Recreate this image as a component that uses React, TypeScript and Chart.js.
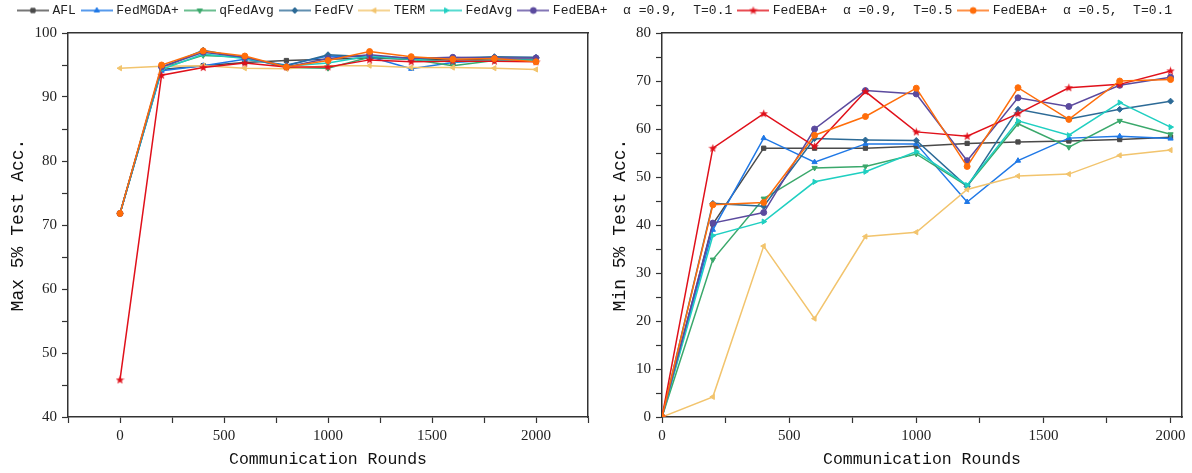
import React, { useEffect, useRef } from 'react';
import { Chart, registerables } from 'chart.js';
import { drawPoint } from 'chart.js/helpers';

Chart.register(...registerables);

// ---------------- data ----------------
const rounds = [0, 200, 400, 600, 800, 1000, 1200, 1400, 1600, 1800, 2000];

const seriesNames = [
  'AFL',
  'FedMGDA+',
  'qFedAvg',
  'FedFV',
  'TERM',
  'FedAvg',
  'FedEBA+  α =0.9,  T=0.1',
  'FedEBA+  α =0.9,  T=0.5',
  'FedEBA+  α =0.5,  T=0.1',
];

// tick positions (labels shown on multiples of 500 / 10)
const leftXTicks = [-250, 0, 250, 500, 750, 1000, 1250, 1500, 1750, 2000, 2250];
const rightXTicks = [0, 250, 500, 750, 1000, 1250, 1500, 1750, 2000];

// Max 5% Test Acc. (left panel)
const maxAFL = [71.8, 94.3, 94.9, 95.4, 95.7, 95.9, 96.1, 95.9, 95.8, 95.9, 95.9];
const maxFedMGDA = [71.8, 94.1, 94.9, 95.9, 95.0, 96.4, 96.3, 94.4, 95.4, 95.8, 95.8];
const maxQFedAvg = [71.8, 94.5, 96.5, 96.2, 94.6, 94.5, 96.2, 95.9, 94.9, 95.7, 95.8];
const maxFedFV = [71.8, 94.6, 97.3, 96.1, 94.9, 96.6, 96.3, 96.1, 96.1, 96.3, 96.2];
const maxTERM = [94.5, 94.8, 94.9, 94.5, 94.4, 94.9, 94.9, 94.6, 94.6, 94.5, 94.3];
const maxFedAvg = [71.8, 94.3, 96.7, 96.0, 94.8, 95.3, 96.4, 95.9, 95.5, 95.8, 95.7];
const maxEBA_09_01 = [71.8, 94.7, 97.0, 96.2, 94.7, 96.0, 96.6, 96.0, 96.2, 96.1, 96.1];
const maxEBA_09_05 = [45.8, 93.4, 94.6, 95.3, 94.7, 94.7, 95.8, 95.5, 95.6, 95.6, 95.5];
const maxEBA_05_01 = [71.8, 95.0, 97.2, 96.4, 94.7, 95.7, 97.1, 96.3, 95.9, 96.0, 95.5];

// Min 5% Test Acc. (right panel)
const minAFL = [0, 40.2, 56.0, 56.0, 56.0, 56.4, 57.0, 57.3, 57.5, 57.8, 58.3];
const minFedMGDA = [0, 39.0, 58.1, 53.1, 56.9, 56.9, 44.8, 53.4, 58.1, 58.5, 58.0];
const minQFedAvg = [0, 32.8, 45.5, 51.9, 52.2, 54.8, 48.1, 61.1, 56.2, 61.7, 58.9];
const minFedFV = [0, 44.5, 43.9, 58.0, 57.7, 57.6, 48.0, 64.1, 62.1, 64.1, 65.8];
const minTERM = [0, 4.2, 35.6, 20.5, 37.6, 38.5, 47.4, 50.2, 50.6, 54.5, 55.6];
const minFedAvg = [0, 37.8, 40.7, 49.0, 51.1, 55.3, 48.3, 61.7, 58.7, 65.5, 60.4];
const minEBA_09_01 = [0, 40.4, 42.6, 60.0, 68.0, 67.3, 53.4, 66.5, 64.7, 69.1, 70.8];
const minEBA_09_05 = [0, 56.0, 63.2, 56.4, 67.8, 59.4, 58.5, 63.2, 68.6, 69.3, 72.1];
const minEBA_05_01 = [0, 44.2, 44.7, 58.7, 62.6, 68.5, 52.2, 68.6, 62.0, 70.0, 70.3];

const maxSeries = [maxAFL, maxFedMGDA, maxQFedAvg, maxFedFV, maxTERM, maxFedAvg, maxEBA_09_01, maxEBA_09_05, maxEBA_05_01];
const minSeries = [minAFL, minFedMGDA, minQFedAvg, minFedFV, minTERM, minFedAvg, minEBA_09_01, minEBA_09_05, minEBA_05_01];

// ---------------- styles ----------------
const colors = ['#4a4a4a', '#1f78e6', '#3aa86b', '#2c6a96', '#f2c46d', '#1fcfc1', '#5b4a9e', '#e0101a', '#ff6d0a'];
const markers = ['rect', 'triangle', 'triangle', 'rectRot', 'triangle', 'triangle', 'circle', 'star', 'circle'];
const rotations = [0, 0, 180, 0, 270, 90, 0, 0, 0];

const TICK_FONT = { family: 'Liberation Serif', size: 15 };
const X_TITLE_FONT = { family: 'Liberation Mono', size: 16.5 };
const Y_TITLE_FONT = { family: 'Liberation Mono', size: 18 };
const AXIS_COLOR = '#333';

function makeStar(color: string): HTMLCanvasElement {
  const c = document.createElement('canvas');
  c.width = 9;
  c.height = 9;
  const ctx = c.getContext('2d')!;
  ctx.fillStyle = color;
  ctx.beginPath();
  for (let i = 0; i < 10; i++) {
    const r = i % 2 === 0 ? 4.5 : 1.9;
    const a = -Math.PI / 2 + (i * Math.PI) / 5;
    const px = 4.5 + r * Math.cos(a);
    const py = 4.7 + r * Math.sin(a);
    if (i === 0) ctx.moveTo(px, py);
    else ctx.lineTo(px, py);
  }
  ctx.closePath();
  ctx.fill();
  return c;
}

function makeLegendIcon(i: number, star: HTMLCanvasElement): HTMLCanvasElement {
  const c = document.createElement('canvas');
  c.width = 32;
  c.height = 12;
  const ctx = c.getContext('2d')!;
  ctx.strokeStyle = colors[i];
  ctx.fillStyle = colors[i];
  ctx.lineWidth = 1.5;
  ctx.beginPath();
  ctx.moveTo(0, 6);
  ctx.lineTo(32, 6);
  ctx.stroke();
  if (markers[i] === 'star') {
    ctx.drawImage(star, 16 - star.width / 2, 6 - star.height / 2);
  } else {
    ctx.lineWidth = 1;
    drawPoint(ctx, { pointStyle: markers[i] as any, rotation: rotations[i], radius: 3, borderWidth: 1 }, 16, 6);
  }
  return c;
}

function makeDatasets(values: number[][], star: HTMLCanvasElement) {
  return values.map((vals, i) => ({
    label: seriesNames[i],
    data: rounds.map((r, j) => ({ x: r, y: vals[j] })),
    borderColor: colors[i],
    backgroundColor: colors[i],
    pointBackgroundColor: colors[i],
    pointBorderColor: colors[i],
    pointStyle: markers[i] === 'star' ? star : markers[i],
    pointRotation: rotations[i],
    pointRadius: 3,
    pointBorderWidth: 1,
    borderWidth: 1.5,
    tension: 0,
    order: values.length - i,
  }));
}

function makeScales(
  xMin: number, xMax: number, xTicks: number[], yMin: number, yMax: number,
  yTitle: string, yWidth: number, yTitlePad: number
) {
  const grid = { display: true, drawOnChartArea: false, drawTicks: true, tickLength: 6, tickColor: AXIS_COLOR, tickWidth: 1.2 };
  const border = { display: true, color: AXIS_COLOR, width: 1.5 };
  return {
    x: {
      type: 'linear', position: 'bottom', min: xMin, max: xMax,
      afterBuildTicks: (s: any) => { s.ticks = xTicks.map((v) => ({ value: v })); },
      ticks: {
        autoSkip: false, maxRotation: 0,
        font: TICK_FONT, color: '#222', padding: 4,
        callback: (v: number) => (v % 500 === 0 ? String(v) : ''),
      },
      grid, border,
      title: { display: true, text: 'Communication Rounds', font: X_TITLE_FONT, color: '#111', padding: { top: 0, bottom: 3 } },
      afterFit: (s: any) => { s.height = 56; },
    },
    y: {
      type: 'linear', position: 'left', min: yMin, max: yMax,
      ticks: {
        stepSize: 5, autoSkip: false, font: TICK_FONT, color: '#222', padding: 5,
        callback: (v: number) => (v % 10 === 0 ? String(v) : ''),
      },
      grid, border,
      title: { display: true, text: yTitle, font: Y_TITLE_FONT, color: '#111', padding: { top: yTitlePad, bottom: 0 } },
      afterFit: (s: any) => { s.width = yWidth; },
    },
    x2: {
      type: 'linear', position: 'top', display: true,
      ticks: { display: false }, grid: { display: false, drawTicks: false }, border,
      afterFit: (s: any) => { s.height = 0; },
    },
    y2: {
      type: 'linear', position: 'right', display: true,
      ticks: { display: false }, grid: { display: false, drawTicks: false }, border,
      afterFit: (s: any) => { s.width = 0; },
    },
  };
}

export default function App() {
  const legendRef = useRef<HTMLCanvasElement>(null);
  const leftRef = useRef<HTMLCanvasElement>(null);
  const rightRef = useRef<HTMLCanvasElement>(null);

  useEffect(() => {
    document.body.style.margin = '0';
    const star = makeStar(colors[7]);
    const charts: Chart[] = [];

    charts.push(new Chart(leftRef.current!, {
      type: 'line',
      data: { datasets: makeDatasets(maxSeries, star) as any },
      options: {
        responsive: false,
        animation: false,
        layout: { padding: { top: 33, right: 12, left: 0, bottom: 0 } },
        plugins: { legend: { display: false }, tooltip: { enabled: false } },
        scales: makeScales(-250, 2250, leftXTicks, 40, 100, 'Max 5% Test Acc.', 68, 7) as any,
      },
    }));

    charts.push(new Chart(rightRef.current!, {
      type: 'line',
      data: { datasets: makeDatasets(minSeries, star) as any },
      options: {
        responsive: false,
        animation: false,
        layout: { padding: { top: 33, right: 10, left: 0, bottom: 0 } },
        plugins: { legend: { display: false }, tooltip: { enabled: false } },
        scales: makeScales(0, 2045, rightXTicks, 0, 80, 'Min 5% Test Acc.', 62, 9) as any,
      },
    }));

    const icons = seriesNames.map((_, i) => makeLegendIcon(i, star));
    charts.push(new Chart(legendRef.current!, {
      type: 'line',
      data: { datasets: seriesNames.map((n, i) => ({ label: n, data: [], borderColor: colors[i] })) },
      options: {
        responsive: false,
        animation: false,
        layout: { padding: 0 },
        scales: { x: { display: false }, y: { display: false } },
        plugins: {
          tooltip: { enabled: false },
          legend: {
            display: true,
            position: 'top',
            labels: {
              usePointStyle: true,
              pointStyleWidth: 26,
              padding: 8,
              color: '#222',
              font: { family: 'Liberation Mono', size: 13 },
              generateLabels: () => seriesNames.map((n, i) => ({
                text: n,
                fillStyle: colors[i],
                strokeStyle: colors[i],
                fontColor: '#222',
                lineWidth: 0,
                hidden: false,
                pointStyle: icons[i] as any,
                rotation: 0,
                datasetIndex: i,
              })),
            },
          },
        },
      },
    }));

    return () => charts.forEach((c) => c.destroy());
  }, []);

  return (
    <div style={{ position: 'absolute', left: 0, top: 0, width: 1192, height: 473, background: '#fff', overflow: 'hidden' }}>
      <canvas ref={leftRef} width={600} height={473} style={{ position: 'absolute', left: 0, top: 0 }} />
      <canvas ref={rightRef} width={592} height={473} style={{ position: 'absolute', left: 600, top: 0 }} />
      <canvas ref={legendRef} width={1192} height={60} style={{ position: 'absolute', left: 0, top: -4 }} />
    </div>
  );
}
